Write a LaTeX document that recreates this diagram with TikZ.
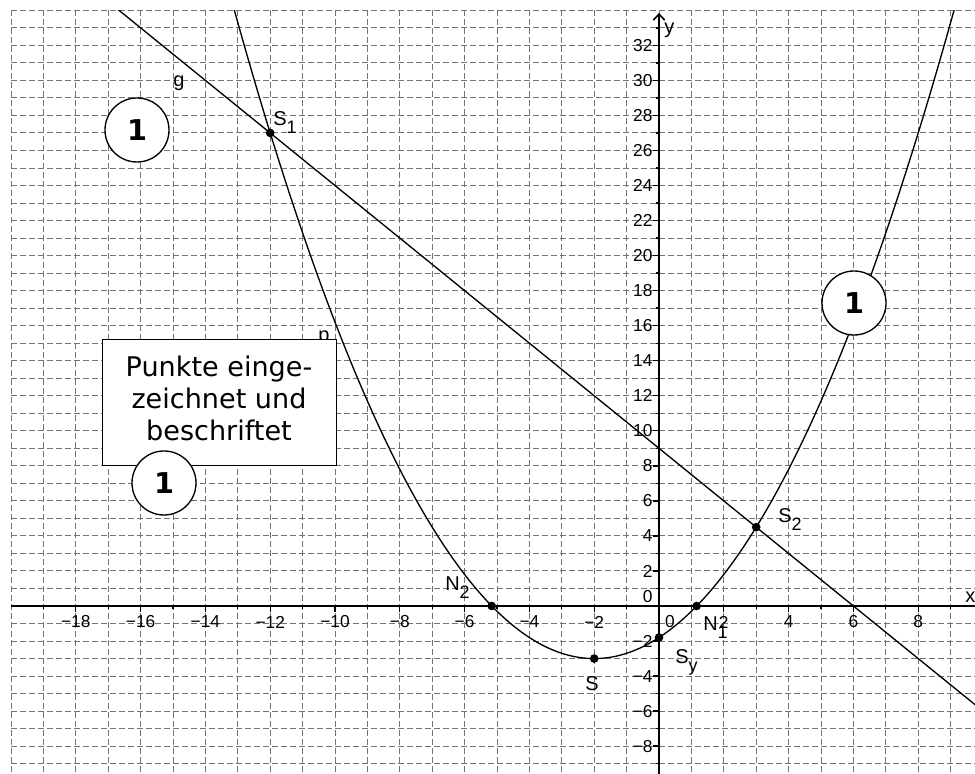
\documentclass[tikz,border=0pt]{standalone}
\usepackage{fontspec}
\setmainfont{Liberation Sans}
\newfontfamily\boxfont{DejaVu Sans}
\usetikzlibrary{arrows.meta}

\tikzset{
  gridline/.style={black!55, line width=0.75pt, dash pattern=on 4.5pt off 2.25pt},
  axisline/.style={black, line width=1.2pt},
  tickline/.style={black, line width=1pt},
  ticklab/.style={font=\fontsize{13}{15}\selectfont, inner sep=0pt},
  curve/.style={black, line width=1pt},
  ptdot/.style={circle, fill=black, inner sep=0pt, minimum size=6.5pt},
  ptlab/.style={font=\fontsize{15}{17}\selectfont, inner sep=0pt, anchor=base west},
  score/.style={circle, draw=black, line width=1pt, fill=white, minimum size=48pt, inner sep=0pt,
                font=\boxfont\bfseries\fontsize{21.5}{24}\selectfont},
  notebox/.style={draw=black, fill=white, line width=0.75pt, inner sep=0pt,
                  minimum width=175.5pt, minimum height=94.5pt},
  boxtext/.style={font=\boxfont\fontsize{20.3}{23}\selectfont, inner sep=0pt, anchor=base},
}
\newcommand\lsub[1]{\raisebox{-6pt}{\fontsize{13.5}{15}\selectfont #1}}

\begin{document}
\begin{tikzpicture}[x=0.75pt,y=-0.75pt]
\useasboundingbox (0,0) rectangle (975,774);
\fill[white] (0,0) rectangle (975,774);

% ---------- data coordinate system ----------
\begin{scope}[shift={(659,606)}, x=24.3pt, y=13.14pt]
  \begin{scope}
    \clip (-20,-9.6) rectangle (9.76,34);
    % grid
    \foreach \i in {-20,...,9} \draw[gridline] (\i,34) -- (\i,-9.6);
    \foreach \j in {-9,...,34} \draw[gridline] (-20,\j) -- (9.76,\j);
    % x axis and ticks
    \draw[axisline] (-20,0) -- (9.76,0);
    \foreach \i in {-19,...,9} {%
      \ifodd\i\relax \draw[tickline] (\i,0) -- ++(0,-2.25pt);
      \else \draw[tickline] (\i,0) -- ++(0,-4.5pt); \fi}
    \foreach \j in {-9,...,33} {%
      \ifodd\j\relax \draw[tickline] (0,\j) -- ++(-2.25pt,0);
      \else \draw[tickline] (0,\j) -- ++(-4.5pt,0); \fi}
    % curves
    \draw[curve] plot[domain=-13.4:9.4, samples=220] (\x, {0.3*(\x+2)*(\x+2)-3});
    \draw[curve] (-20,39) -- (9.76,-5.64);
  \end{scope}
  % y axis
  \draw[axisline, -{Straight Barb[length=4.5pt,width=8.5pt]}] (0,-9.6) -- (0,33.85);

  % tick labels
  \foreach \i in {-18,-16,...,-2,2,4,6,8}
    \node[ticklab, anchor=center, yshift=-12pt] (xl\i) at (\i,0)
      {\ifnum\i<0 −\number-\i\else\i\fi};
  \foreach \j in {-8,-6,-4,-2,2,4,...,32}
    \node[ticklab, anchor=east, xshift=-4.7pt] (yl\j) at (0,\j)
      {\ifnum\j<0 −\number-\j\else\j\fi};
  \node[ticklab, anchor=east, xshift=-4.7pt, yshift=6.75pt] (yl0) at (0,0) {0};
  \node[ticklab, anchor=center, xshift=8.25pt, yshift=-12pt] (xl0) at (0,0) {0};

  % points
  \node[ptdot] (S1) at (-12,27) {};
  \node[ptdot] (S2) at (3,4.5) {};
  \node[ptdot] (N1) at (1.1623,0) {};
  \node[ptdot] (N2) at (-5.1623,0) {};
  \node[ptdot] (S)  at (-2,-3) {};
  \node[ptdot] (Sy) at (0,-1.8) {};
\end{scope}

% ---------- labels (pixel coordinates) ----------
\node[ptlab] (lx)  at (965,602) {x};
\node[ptlab] (ly)  at (664,33.5) {y};
\node[ptlab] (lg)  at (173,87) {g};
\node[ptlab] (lp)  at (318,341.5) {p};
\node[ptlab] (lS1) at (273,125) {S\lsub{1}};
\node[ptlab] (lS2) at (778,522) {S\lsub{2}};
\node[ptlab] (lN2) at (445,590) {N\lsub{2}};
\node[ptlab] (lN1) at (703,630) {N\lsub{1}};
\node[ptlab] (lS)  at (585,690) {S};
\node[ptlab] (lSy) at (675,663) {S\lsub{y}};

% ---------- note box ----------
\node[notebox] (box) at (219,402) {};
\node[boxtext] (t1) at (219,376.7) {Punkte einge-};
\node[boxtext] (t2) at (219,408.3) {zeichnet und};
\node[boxtext] (t3) at (219,440) {beschriftet};

% ---------- score circles ----------
\node[score] (c1) at (137,130) {1};
\node[score] (c2) at (164,483) {1};
\node[score] (c3) at (854,303) {1};
\end{tikzpicture}
\end{document}
